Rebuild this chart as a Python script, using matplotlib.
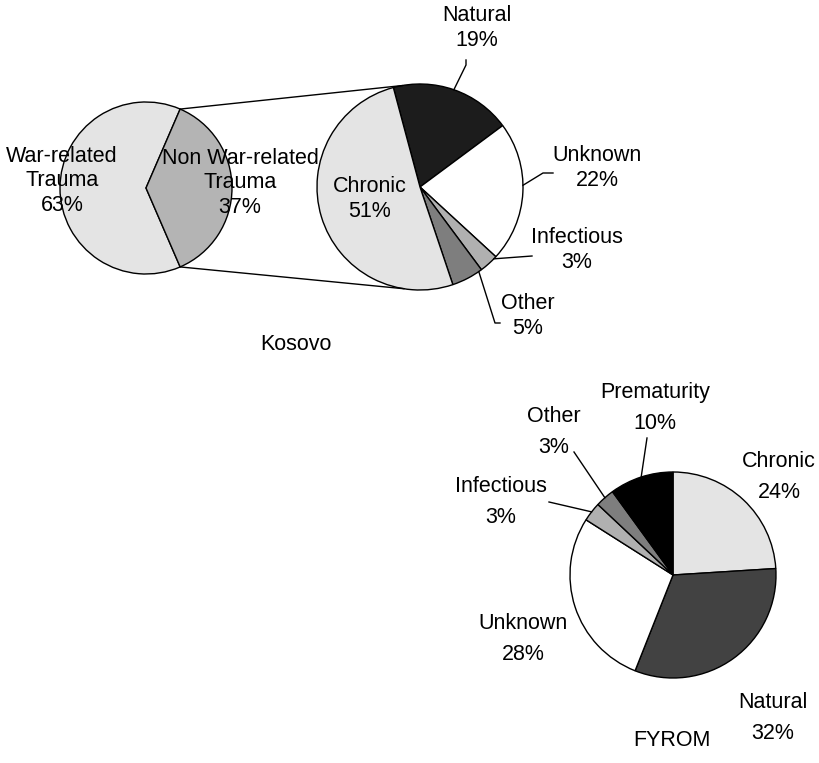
import numpy as np
import matplotlib.pyplot as plt

plt.rcParams['font.family'] = ['Liberation Sans', 'DejaVu Sans']

# Kosovo: overall split of deaths
kos_main_labels = ['War-related\nTrauma', 'Non War-related\nTrauma']
kos_main_values = [63, 37]
kos_main_colors = ['#e4e4e4', '#b4b4b4']

# Kosovo: breakdown of non war-related deaths
kos_sub_labels = ['Natural', 'Unknown', 'Infectious', 'Other', 'Chronic']
kos_sub_values = [19, 22, 3, 5, 51]
kos_sub_colors = ['#1c1c1c', '#ffffff', '#b0b0b0', '#7e7e7e', '#e4e4e4']

# FYROM breakdown
fy_labels = ['Chronic', 'Natural', 'Unknown', 'Infectious', 'Other', 'Prematurity']
fy_values = [24, 32, 28, 3, 3, 10]
fy_colors = ['#e4e4e4', '#424242', '#ffffff', '#b0b0b0', '#7e7e7e', '#000000']

W, H = 820, 763
FS = 15.5
LS_KOS = 1.2
LS_FY = 1.6


def pt(x, y):
    # pixel position (origin top-left) -> data coords
    return x, H - y


fig = plt.figure(figsize=(W / 100, H / 100), dpi=100)
ax = fig.add_axes([0, 0, 1, 1])

wp = dict(edgecolor='black', linewidth=1.0)

# --- Kosovo ---
c_main, r_main = pt(146, 188), 86
w_main, _ = ax.pie(kos_main_values, colors=kos_main_colors, center=c_main,
                   radius=r_main, startangle=kos_main_values[1] * 1.8,
                   wedgeprops=wp)

c_sub, r_sub = pt(420, 187), 103
w_sub, _ = ax.pie(kos_sub_values, colors=kos_sub_colors, center=c_sub,
                  radius=r_sub, startangle=105, counterclock=False,
                  wedgeprops=wp)


def on_arc(c, r, ang):
    a = np.deg2rad(ang)
    return c[0] + r * np.cos(a), c[1] + r * np.sin(a)


# connector lines from the non war-related slice to the breakdown pie
nw = w_main[1]
for a_from, a_to in [(nw.theta2, 100), (nw.theta1, -99)]:
    x0, y0 = on_arc(c_main, r_main, a_from)
    x1, y1 = on_arc(c_sub, r_sub, a_to)
    ax.plot([x0, x1], [y0, y1], color='black', lw=1.0)

# labels inside the pies
ax.text(*pt(62, 181), f'{kos_main_labels[0]}\n{kos_main_values[0]}%',
        ha='center', va='center', fontsize=FS, linespacing=LS_KOS)
ax.text(*pt(240, 183), f'{kos_main_labels[1]}\n{kos_main_values[1]}%',
        ha='center', va='center', fontsize=FS, linespacing=LS_KOS)
ax.text(*pt(370, 199), f'{kos_sub_labels[4]}\n{kos_sub_values[4]}%',
        ha='center', va='center', fontsize=FS, linespacing=LS_KOS)


def leader(wedges, i, c, r, frac, path):
    w = wedges[i]
    ang = w.theta1 + frac * (w.theta2 - w.theta1)
    x0, y0 = on_arc(c, r, ang)
    xs = [x0] + [pt(*p)[0] for p in path]
    ys = [y0] + [pt(*p)[1] for p in path]
    ax.plot(xs, ys, color='black', lw=1.0)


# outside labels with leader lines (Kosovo breakdown)
kos_leaders = {
    0: (0.5, [(466, 65), (466, 60)], (477, 28)),
    1: (0.55, [(543, 173), (553, 173)], (597, 168)),
    2: (0.85, [(532, 256)], (577, 250)),
    3: (0.9, [(495, 323), (500, 323)], (528, 316)),
}
for i, (frac, path, txy) in kos_leaders.items():
    leader(w_sub, i, c_sub, r_sub, frac, path)
    ax.text(*pt(*txy), f'{kos_sub_labels[i]}\n{kos_sub_values[i]}%',
            ha='center', va='center', fontsize=FS, linespacing=LS_KOS)

ax.text(*pt(296, 345), 'Kosovo', ha='center', va='center', fontsize=FS)

# --- FYROM ---
c_fy, r_fy = pt(673, 575), 103
w_fy, _ = ax.pie(fy_values, colors=fy_colors, center=c_fy, radius=r_fy,
                 startangle=90, counterclock=False, wedgeprops=wp)

fy_pos = {
    0: (779, 477),
    1: (773, 718),
    2: (523, 639),
    3: (501, 502),
    4: (554, 432),
    5: (655, 408),
}
fy_leaders = {
    3: (0.5, [(549, 502)]),
    4: (0.5, [(574, 452)]),
    5: (0.5, [(647, 438)]),
}
for i, (frac, path) in fy_leaders.items():
    leader(w_fy, i, c_fy, r_fy, frac, path)
for i, txy in fy_pos.items():
    ax.text(*pt(*txy), f'{fy_labels[i]}\n{fy_values[i]}%',
            ha='center', va='center', fontsize=FS, linespacing=LS_FY)

ax.text(*pt(672, 740), 'FYROM', ha='center', va='center', fontsize=FS)

ax.set_xlim(0, W)
ax.set_ylim(0, H)
ax.set_aspect('equal')
ax.axis('off')

fig.savefig('out.png', dpi=100, facecolor='white')
